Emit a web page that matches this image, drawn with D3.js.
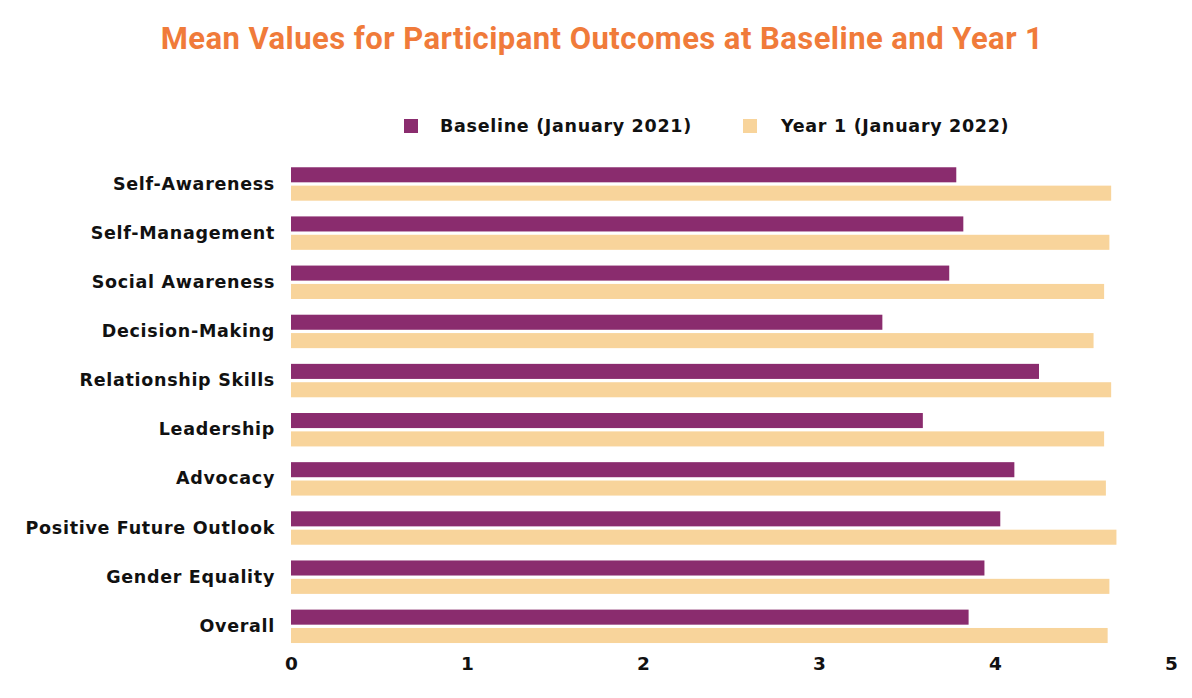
<!DOCTYPE html>
<html>
<head>
<meta charset="utf-8">
<script src="https://cdn.jsdelivr.net/npm/d3@7"></script>
<style>
  html, body { margin: 0; padding: 0; background: #fff; }
  svg { display: block; }
</style>
</head>
<body>
<svg id="chart" width="1192" height="698"></svg>
<script>
const categories = ["Self-Awareness","Self-Management","Social Awareness","Decision-Making","Relationship Skills","Leadership","Advocacy","Positive Future Outlook","Gender Equality","Overall"];
const seriesNames = ["Baseline (January 2021)", "Year 1 (January 2022)"];
const baseline = [3.78, 3.82, 3.74, 3.36, 4.25, 3.59, 4.11, 4.03, 3.94, 3.85];
const year1 = [4.66, 4.65, 4.62, 4.56, 4.66, 4.62, 4.63, 4.69, 4.65, 4.64];
const xTicks = [0, 1, 2, 3, 4, 5];
const colors = ["#8A2C6E", "#F8D49B"];

const svg = d3.select("#chart");

const x = d3.scaleLinear().domain([0, 5]).range([291, 1171]);
const y = d3.scaleBand().domain(categories).range([159.4, 650.9]).paddingInner(0.32).paddingOuter(0.16);
const ySub = d3.scaleBand().domain(seriesNames).range([0, y.bandwidth()]).paddingInner(0.18);

const data = categories.map((c, i) => ({cat: c, vals: [baseline[i], year1[i]]}));

const labelFont = "'DejaVu Sans', sans-serif";

// Title
svg.append("text")
  .attr("x", 602).attr("y", 49)
  .attr("text-anchor", "middle")
  .attr("font-family", "Roboto, sans-serif")
  .attr("font-weight", 700)
  .attr("font-size", 31)
  .attr("fill", "#F07B3A")
  .attr("letter-spacing", 0.45)
  .text("Mean Values for Participant Outcomes at Baseline and Year 1");

// Legend
const legendItems = [{name: seriesNames[0], sx: 404, tx: 440}, {name: seriesNames[1], sx: 743, tx: 781}];
legendItems.forEach((d, i) => {
  svg.append("rect").attr("x", d.sx).attr("y", 119).attr("width", 14).attr("height", 14).attr("fill", colors[i]);
  svg.append("text").attr("x", d.tx).attr("y", 132)
    .attr("font-family", labelFont).attr("font-weight", 700).attr("font-size", 17.5)
    .attr("letter-spacing", 0.7)
    .attr("fill", "#111").text(d.name);
});

// Bars
const groups = svg.append("g").selectAll("g").data(data).join("g")
  .attr("transform", d => `translate(0,${y(d.cat)})`);
groups.selectAll("rect").data(d => d.vals.map((v, j) => ({v, s: seriesNames[j], j})))
  .join("rect")
  .attr("x", x(0))
  .attr("y", d => ySub(d.s))
  .attr("width", d => x(d.v) - x(0))
  .attr("height", ySub.bandwidth())
  .attr("fill", d => colors[d.j]);

// Y axis labels
const yAxis = d3.axisLeft(y).tickSize(0).tickPadding(16);
const gy = svg.append("g").attr("transform", `translate(${x(0)},0)`).call(yAxis);
gy.select(".domain").remove();
gy.selectAll("text")
  .attr("font-family", labelFont).attr("font-weight", 700).attr("font-size", 17.5)
  .attr("letter-spacing", 0.7)
  .attr("fill", "#111");

// X axis
const xAxis = d3.axisBottom(x).tickValues(xTicks).tickFormat(d3.format("d")).tickSize(0).tickPadding(6);
const gx = svg.append("g").attr("transform", `translate(0,${y.range()[1]})`).call(xAxis);
gx.select(".domain").remove();
gx.selectAll("text")
  .attr("font-family", labelFont).attr("font-weight", 700).attr("font-size", 18.5)
  .attr("fill", "#111");
</script>
</body>
</html>
